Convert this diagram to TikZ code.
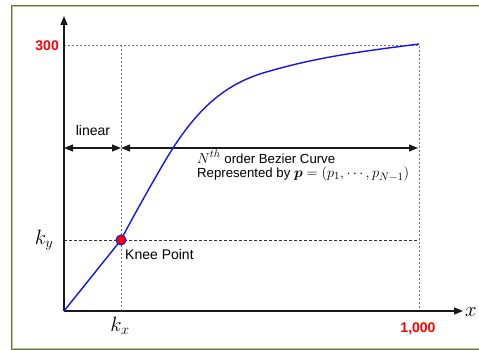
\documentclass[tikz,border=0pt]{standalone}
\usepackage{fontspec}
\usepackage{bm}
\setmainfont{Liberation Sans}
\usetikzlibrary{arrows.meta}
\definecolor{frameolive}{RGB}{104,120,52}
\definecolor{curveblue}{RGB}{20,20,240}
\newcommand{\bigmath}[1]{{\fontsize{15.5}{16}\selectfont$#1$}}
\tikzset{
  axis/.style={line width=1.4pt, draw=black!90, -{Triangle[length=9pt,width=7pt]}},
  dimarrow/.style={line width=1.2pt, draw=black!90, {Triangle[length=9pt,width=7pt]}-{Triangle[length=9pt,width=7pt]}},
  guide/.style={draw=black!55, line width=0.8pt, dash pattern=on 2pt off 2pt},
  guidedark/.style={draw=black!80, line width=0.7pt, dash pattern=on 3pt off 2pt},
  lbl/.style={font=\fontsize{14}{16}\selectfont, inner sep=0pt},
  bezlbl/.style={font=\fontsize{13.2}{15}\selectfont, inner sep=0pt, anchor=base west},
  redlbl/.style={font=\fontsize{14}{16}\selectfont\bfseries, text=red, inner sep=0pt},
  mathlbl/.style={font=\fontsize{20}{22}\selectfont, inner sep=0pt},
  knee/.style={circle, fill=red, draw=curveblue, line width=1pt, minimum size=10pt, inner sep=0pt}
}
\begin{document}
\begin{tikzpicture}[x=1pt,y=-1pt]
\useasboundingbox (0,0) rectangle (479,350);
% frame
\draw[frameolive, line width=2pt] (12,6.5) rectangle (490,348.5);
\draw[frameolive!45, line width=0.5pt] (12,6.5) rectangle (490,348.5);
% coordinates
\coordinate (O) at (64,311);
\coordinate (Ytop) at (64,16);
\coordinate (Xend) at (463,311);
\coordinate (Y300) at (64,45);
\coordinate (Kx300) at (121,45);
\coordinate (E300) at (419,45);
\coordinate (Kx0) at (121,311);
\coordinate (E0) at (419,311);
\coordinate (KyL) at (64,240);
\coordinate (KyR) at (419,240);
\coordinate (AL) at (64,148);
\coordinate (AM) at (121,148);
\coordinate (AR) at (418,148);
\coordinate (Kn) at (121,240);
\coordinate (C1) at (173,148);
\coordinate (C2) at (270,71);
\coordinate (Cend) at (419,44);
% guides
\draw[guide] (Y300) -- (E300) -- (E0);
\draw[guide] (Kx300) -- (Kx0);
\draw[guidedark] (KyL) -- (KyR);
% axes
\draw[axis] (O) -- (Ytop);
\draw[axis] (O) -- (Xend);
% dimension arrows
\draw[dimarrow] (AL) -- (AM);
\draw[dimarrow] (AM) -- (AR);
% curve
\draw[curveblue, line width=1.4pt] (O) -- (Kn)
  .. controls (130,222) and (162,165) .. (C1)
  .. controls (199,108) and (226,82.5) .. (C2)
  .. controls (320,56.4) and (369,50.5) .. (Cend);
\node[knee] (K) at (Kn) {};
% labels
\node[redlbl, anchor=east] (l300) at (59,46) {300};
\node[redlbl] (l1000) at (418,328.5) {1,000};
\node[lbl] (lin) at (93,130) {linear};
\node[lbl, anchor=west] (kp) at (125,254) {Knee Point};
\node[mathlbl] (ky) at (44,240) {$k_y$};
\node[mathlbl] (kx) at (120,326) {$k_x$};
\node[mathlbl] (xl) at (471,312) {$x$};
\node[bezlbl] (bez1) at (197,163) {\bigmath{N^{th}} order Bezier Curve};
\node[bezlbl] (bez2) at (197,177.5) {Represented by \bigmath{\bm{p}=(p_1,\cdots,p_{N-1})}};
\end{tikzpicture}
\end{document}
